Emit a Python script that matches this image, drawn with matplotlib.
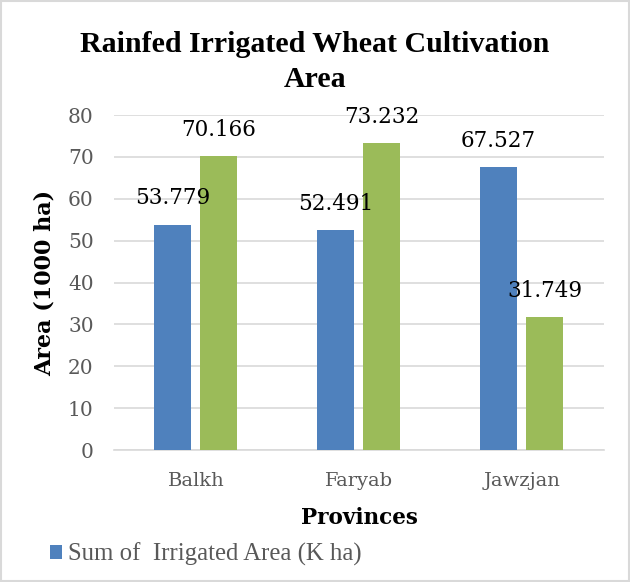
import matplotlib
matplotlib.use("Agg")
import matplotlib.pyplot as plt
from matplotlib.patches import Rectangle
import numpy as np

# chart data
provinces = ["Balkh", "Faryab", "Jawzjan"]
irrigated = [53.779, 52.491, 67.527]
rainfed = [70.166, 73.232, 31.749]
yticks = [0, 10, 20, 30, 40, 50, 60, 70, 80]

blue = "#4F81BD"
green = "#9BBB59"
grey = "#595959"

plt.rcParams["font.family"] = ["DejaVu Serif"]

fig = plt.figure(figsize=(6.3, 5.82), dpi=100)
ax = fig.add_axes([0.1817, 0.2268, 0.7763, 0.5756])

x = np.arange(len(provinces))
w = 0.227
b1 = ax.bar(x - 0.144, irrigated, w, color=blue, zorder=3, label="Sum of  Irrigated Area (K ha)")
b2 = ax.bar(x + 0.14, rainfed, w, color=green, zorder=3)

# value labels sit just above each bar
for bars, vals in [(b1, irrigated), (b2, rainfed)]:
    for rect, v in zip(bars, vals):
        ax.annotate(f"{v:.3f}", (rect.get_x() + rect.get_width() / 2, v),
                    xytext=(0, 19), textcoords="offset points",
                    ha="center", va="center", fontsize=15.5, color="black", zorder=4)

ax.set_xlim(-0.5, 2.5)
ax.set_ylim(0, 80)
ax.set_yticks(yticks)
ax.set_xticks(x)
ax.set_xticklabels(provinces)
ax.grid(axis="y", color="#D9D9D9", linewidth=1.2, zorder=0)
for s in ["top", "right", "left"]:
    ax.spines[s].set_visible(False)
ax.spines["bottom"].set_color("#D9D9D9")
ax.spines["bottom"].set_linewidth(1.2)
ax.tick_params(axis="y", length=0, labelsize=14.5, labelcolor=grey, pad=15)
ax.tick_params(axis="x", length=0, labelsize=14, labelcolor=grey, pad=16)

ax.set_ylabel("Area (1000 ha)", fontsize=16, fontweight="bold", labelpad=9)
ax.set_xlabel("Provinces", fontsize=15.5, fontweight="bold", labelpad=12)

fig.text(0.5, 0.947, "Rainfed Irrigated Wheat Cultivation\nArea", ha="center", va="top",
         fontsize=21.5, fontweight="bold", linespacing=1.4, family="Liberation Serif")

leg = ax.legend(loc="center left", bbox_to_anchor=(0.079, 0.047), bbox_transform=fig.transFigure,
                frameon=False, prop={"family": "Liberation Serif", "size": 17.8},
                labelcolor=grey, handlelength=0.5, handleheight=0.5,
                handletextpad=0.25, borderaxespad=0, borderpad=0)

# light frame round the whole chart
fig.patches.append(Rectangle((0.002, 0.002), 0.996, 0.996, transform=fig.transFigure,
                             fill=False, edgecolor="#D9D9D9", linewidth=1.5))

fig.savefig("out.png", dpi=100, facecolor="white")
